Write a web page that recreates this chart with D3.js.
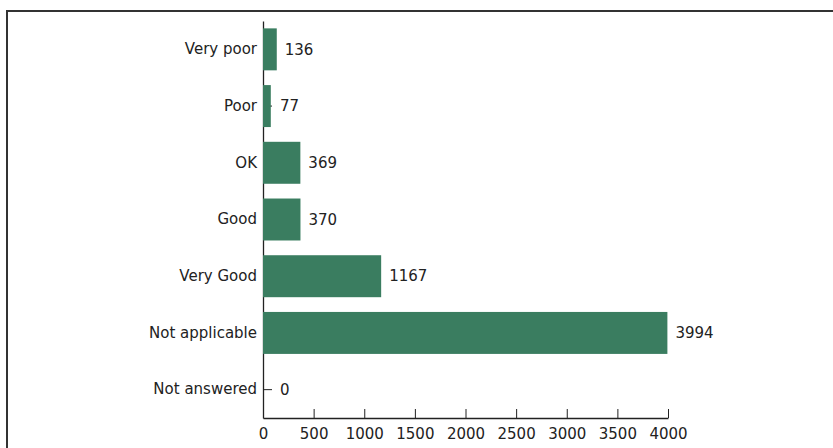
<!DOCTYPE html>
<html><head><meta charset="utf-8">
<script src="https://cdn.jsdelivr.net/npm/d3@7"></script>
<style>
html,body{margin:0;padding:0;background:#fff;}
svg{display:block;}
text{font-family:"DejaVu Sans", sans-serif;}
</style></head>
<body>
<script>
const categories = ["Very poor","Poor","OK","Good","Very Good","Not applicable","Not answered"];
const values = [136,77,369,370,1167,3994,0];
const xTicks = [0,500,1000,1500,2000,2500,3000,3500,4000];

const W = 833, H = 448;
const FONT = "'DejaVu Sans', sans-serif";
const svg = d3.select("body").append("svg").attr("width", W).attr("height", H);

// frame
svg.append("rect").attr("x", 7).attr("y", 11).attr("width", W + 20).attr("height", H + 20)
  .attr("fill", "none").attr("stroke", "#333").attr("stroke-width", 2);

const x0 = 263, x1 = 668, yTop = 21, yBot = 418;
const x = d3.scaleLinear().domain([0, 4000]).range([x0, x1]);
const y = d3.scaleBand().domain(categories).range([yTop, yBot]).paddingInner(0.26).paddingOuter(0.13);

const data = categories.map((c, i) => ({c, v: values[i]}));

const barsG = svg.append("g");
barsG.selectAll("rect").data(data).join("rect")
  .attr("x", x(0)).attr("y", d => y(d.c))
  .attr("width", d => x(d.v) - x(0)).attr("height", y.bandwidth())
  .attr("fill", "#3a7d60");

// y axis
const yAxis = svg.append("g").attr("transform", `translate(${x0},0)`)
  .call(d3.axisLeft(y).tickSize(-9).tickSizeOuter(0).tickPadding(5));
yAxis.attr("font-size", 15).attr("font-family", FONT);
yAxis.select(".domain").attr("stroke", "#222").attr("stroke-width", 1.3);
yAxis.selectAll(".tick line").attr("stroke", "#222");
yAxis.selectAll(".tick text").attr("x", -6).attr("fill", "#222");
yAxis.lower();

// x axis
const xAxis = svg.append("g").attr("transform", `translate(0,${yBot})`)
  .call(d3.axisBottom(x).tickValues(xTicks).tickFormat(d3.format("d")).tickSize(-9).tickSizeOuter(0));
xAxis.attr("font-size", 15).attr("font-family", FONT);
xAxis.select(".domain").attr("stroke", "#222").attr("stroke-width", 1.3);
xAxis.selectAll(".tick line").attr("stroke", "#222");
xAxis.selectAll(".tick text").attr("y", 10).attr("dy", "0.71em").attr("fill", "#222");

// value labels
svg.append("g").attr("font-size", 15).attr("font-family", FONT)
  .selectAll("text").data(data).join("text")
  .attr("x", d => Math.max(x(d.v), x0 + 9) + 8)
  .attr("y", d => y(d.c) + y.bandwidth() / 2)
  .attr("dy", "0.35em")
  .attr("fill", "#222")
  .text(d => d.v);
</script>
</body></html>
